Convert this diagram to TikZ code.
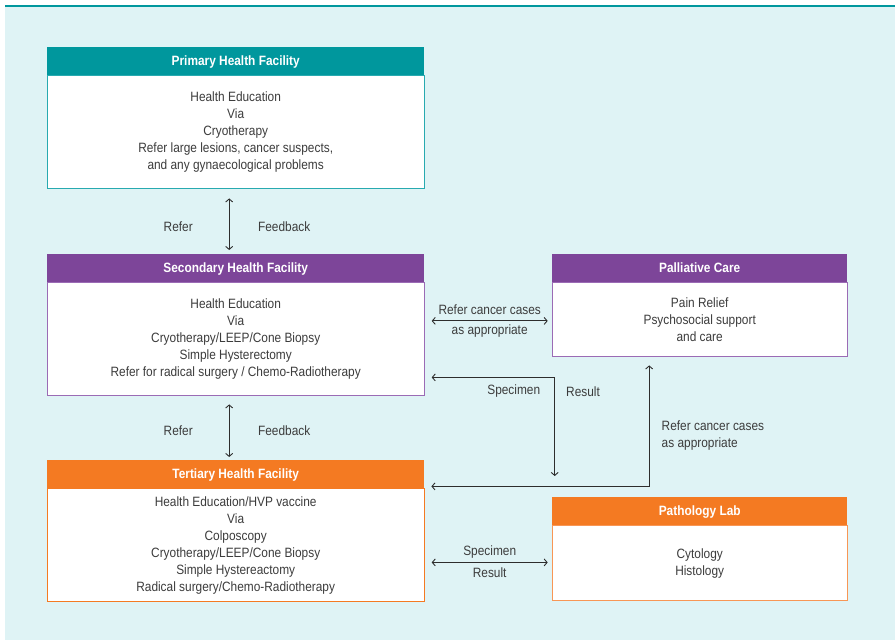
\documentclass[tikz,border=0pt]{standalone}
\usepackage{fontspec}
\setmainfont{Liberation Sans}[FakeStretch=0.88]
\usetikzlibrary{positioning, calc, arrows.meta}
\definecolor{bgcyan}{RGB}{223, 243, 245}
\definecolor{phteal}{RGB}{0, 151, 157}
\definecolor{phline}{RGB}{40, 170, 176}
\definecolor{shpurple}{RGB}{125, 69, 153}
\definecolor{shline}{RGB}{155, 107, 181}
\definecolor{thorange}{RGB}{244, 122, 34}
\definecolor{thline}{RGB}{248, 150, 85}
\definecolor{ink}{RGB}{60, 60, 60}
\definecolor{wire}{RGB}{45, 45, 45}

\begin{document}
\begin{tikzpicture}[x=1pt, y=-1pt,
  head/.style={anchor=north west, minimum height=28pt, inner sep=0pt, text=white,
    text height=10pt, text depth=1pt, font=\fontsize{13.5}{16}\selectfont\bfseries},
  body/.style={draw, fill=white, line width=1pt, inner sep=0pt, align=center, text=ink,
    font=\fontsize{13.5}{17}\selectfont},
  lbl/.style={text=ink, font=\fontsize{13.5}{17}\selectfont},
  link/.style={wire, line width=0.9pt, {Straight Barb[length=3pt, width=7pt]}-{Straight Barb[length=3pt, width=7pt]}}]
  \useasboundingbox (0, 0) rectangle (895, 640);
  \fill[bgcyan] (5, 6) rectangle (895, 640);
  \draw[phteal, line width=2pt] (5, 6) -- (895, 6);

  % facilities
  \node[head, fill=phteal, minimum width=377pt] (primhead) at (47, 47) {Primary Health Facility};
  \node[body, draw=phline, minimum width=377pt, minimum height=113pt, below=0pt of primhead] (primbody)
    {Health Education\\Via\\Cryotherapy\\Refer large lesions, cancer suspects,\\and any gynaecological problems};
  \node[head, fill=shpurple, minimum width=377pt] (sechead) at (47, 254) {Secondary Health Facility};
  \node[body, draw=shline, minimum width=377pt, minimum height=113pt, below=0pt of sechead] (secbody)
    {Health Education\\Via\\Cryotherapy/LEEP/Cone Biopsy\\Simple Hysterectomy\\Refer for radical surgery / Chemo-Radiotherapy};
  \node[head, fill=thorange, minimum width=377pt] (terhead) at (47, 460) {Tertiary Health Facility};
  \node[body, draw=thorange, minimum width=377pt, minimum height=113pt, below=0pt of terhead] (terbody)
    {Health Education/HVP vaccine\\Via\\Colposcopy\\Cryotherapy/LEEP/Cone Biopsy\\Simple Hystereactomy\\Radical surgery/Chemo-Radiotherapy};

  % services
  \node[head, fill=shpurple, minimum width=295pt] (palhead) at (552, 254) {Palliative Care};
  \node[body, draw=shline, minimum width=295pt, minimum height=74pt, below=0pt of palhead] (palbody)
    {Pain Relief\\Psychosocial support\\and care};
  \node[head, fill=thorange, minimum width=295pt] (pathhead) at (552, 497) {Pathology Lab};
  \node[body, draw=thline, minimum width=295pt, minimum height=75pt, below=0pt of pathhead] (pathbody)
    {Cytology\\Histology};

  % referrals
  \draw[link] ($(primbody.south)+(-6.5, 9)$) -- ($(sechead.north)+(-6.5, -4)$)
    node[lbl, midway, xshift=-51pt, yshift=-2pt] {Refer}
    node[lbl, midway, xshift=55pt, yshift=-2pt] {Feedback};
  \draw[link] ($(secbody.south)+(-6.5, 8)$) -- ($(terhead.north)+(-6.5, -3)$)
    node[lbl, midway, xshift=-51pt] {Refer}
    node[lbl, midway, xshift=55pt] {Feedback};
  \draw[link] ($(secbody.east |- palbody.center)+(7, 1)$) -- ($(palbody.west)+(-4, 1)$)
    node[lbl, midway, above=2pt] {Refer cancer cases}
    node[lbl, midway, below=0pt] {as appropriate};
  \draw[link] ($(secbody.south east)+(7, -19)$) coordinate (specstart)
    -| ($(palbody.west |- terhead.north)+(3, 16)$) coordinate (specend);
  \node[lbl, anchor=east] (speclbl) at ($(specstart)+(112, 14)$) {Specimen};
  \node[lbl, anchor=west] (reslbl) at ($(specstart)+(131, 14)$) {Result};
  \draw[link] ($(terhead.south east)+(7, -2)$) -| ($(palbody.south)+(-50.5, 8)$) coordinate (palin);
  \node[lbl, anchor=west, align=left] (terpallbl) at ($(palin)+(9, 70)$) {Refer cancer cases\\as appropriate};
  \draw[link] ($(terbody.east |- pathbody.west)+(7, -1)$) -- ($(pathbody.west)+(-4, -1)$)
    node[lbl, midway, above=0pt] {Specimen}
    node[lbl, midway, below=2pt] {Result};
\end{tikzpicture}
\end{document}
